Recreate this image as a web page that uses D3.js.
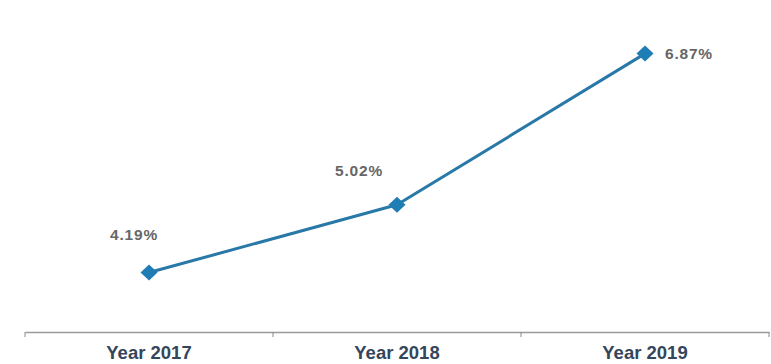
<!DOCTYPE html>
<html>
<head>
<meta charset="utf-8">
<script src="https://cdn.jsdelivr.net/npm/d3@7"></script>
<style>
  html, body { margin: 0; padding: 0; background: #ffffff; }
  svg { display: block; }
</style>
</head>
<body>
<svg id="chart" width="771" height="364"></svg>
<script>
// Growth rate by year
const categories = ["Year 2017", "Year 2018", "Year 2019"];
const values = [4.19, 5.02, 6.87];
const valueLabels = ["4.19%", "5.02%", "6.87%"];

const svg = d3.select("#chart");
const W = 771, H = 364;
const axisY = 332;

svg.append("rect").attr("width", W).attr("height", H).attr("fill", "#ffffff");

const x = d3.scaleBand().domain(categories).range([25, 769]);
const y = d3.scaleLinear().domain([3.45, 7.0]).range([333, 43]);

// category axis along the bottom
const xAxis = svg.append("g")
  .attr("transform", `translate(0,${axisY})`)
  .call(d3.axisBottom(x).tickSize(0).tickPadding(14));
xAxis.select(".domain").attr("stroke", "#9a9a9a").attr("stroke-width", 1.5);
xAxis.selectAll("text")
  .attr("font-family", "'Liberation Sans', Arial, sans-serif")
  .attr("font-size", 18.5)
  .attr("font-weight", "bold")
  .attr("fill", "#34465c");

// tick marks at band edges
const edges = categories.map(c => x(c)).concat([x(categories[categories.length - 1]) + x.bandwidth()]);
svg.append("g").selectAll("line").data(edges).join("line")
  .attr("x1", d => d).attr("x2", d => d)
  .attr("y1", axisY).attr("y2", axisY + 5)
  .attr("stroke", "#8a8a8a").attr("stroke-width", 1);

const cx = c => x(c) + x.bandwidth() / 2;
const pts = categories.map((c, i) => ({ c, v: values[i], label: valueLabels[i] }));

// connecting line
svg.append("path")
  .datum(pts)
  .attr("fill", "none")
  .attr("stroke", "#2878a8")
  .attr("stroke-width", 3)
  .attr("stroke-linejoin", "round")
  .attr("d", d3.line().x(d => cx(d.c)).y(d => y(d.v)));

// diamond markers
svg.append("g").selectAll("path").data(pts).join("path")
  .attr("transform", d => `translate(${cx(d.c)},${y(d.v)})`)
  .attr("d", "M0,-8 L8.5,0 L0,8 L-8.5,0 Z")
  .attr("fill", "#1f7db5");

// value labels
const offsets = [
  { dx: -15, dy: -33, anchor: "middle" },
  { dx: -38, dy: -29, anchor: "middle" },
  { dx: 20, dy: 5, anchor: "start" }
];
svg.append("g").selectAll("text").data(pts).join("text")
  .attr("x", (d, i) => cx(d.c) + offsets[i].dx)
  .attr("y", (d, i) => y(d.v) + offsets[i].dy)
  .attr("text-anchor", (d, i) => offsets[i].anchor)
  .attr("font-family", "'Liberation Sans', Arial, sans-serif")
  .attr("font-size", 15.5)
  .attr("font-weight", "bold")
  .attr("letter-spacing", 0.8)
  .attr("fill", "#666666")
  .text(d => d.label);
</script>
</body>
</html>
